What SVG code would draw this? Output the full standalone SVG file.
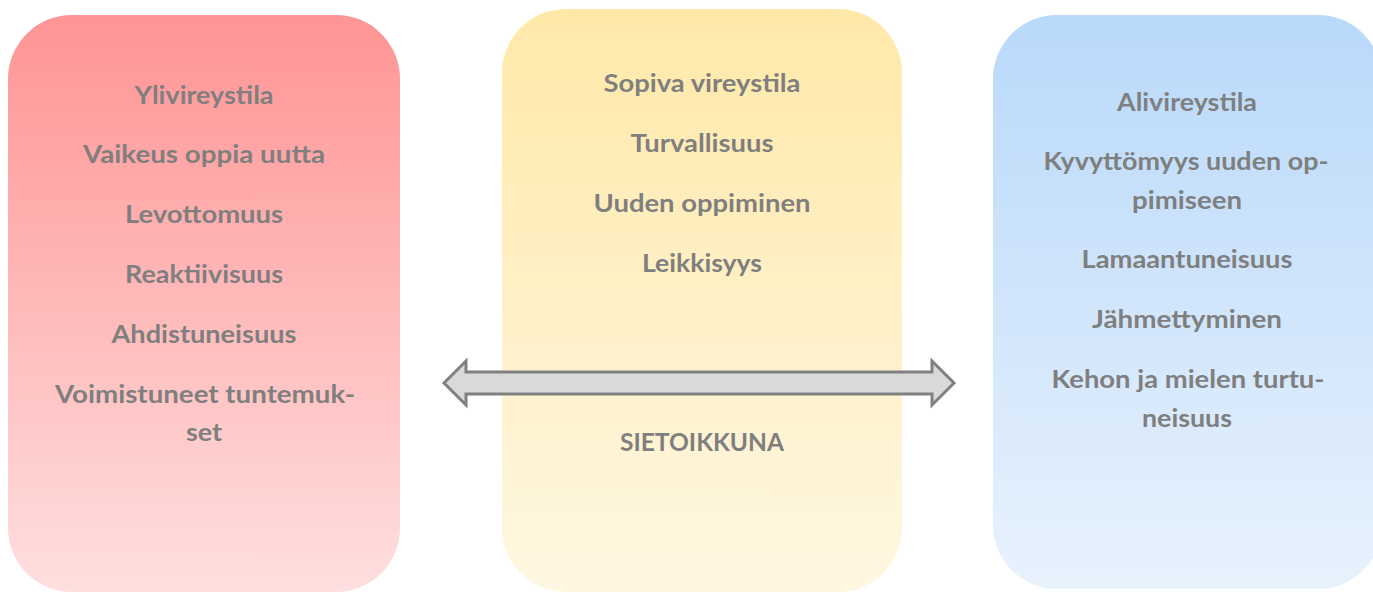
<svg xmlns="http://www.w3.org/2000/svg" width="1373" height="592" viewBox="0 0 1373 592">
<style>
.t{font-family:Lato,"Open Sans","Liberation Sans",sans-serif;font-weight:700;font-size:25px;fill:#7f7f7f;text-anchor:middle}
</style>
<defs>
<linearGradient id="gr" x1="0" y1="0" x2="0" y2="1"><stop offset="0" stop-color="#ff9494"/><stop offset="1" stop-color="#ffdfdf"/></linearGradient>
<linearGradient id="gy" x1="0" y1="0" x2="0" y2="1"><stop offset="0" stop-color="#ffe9a9"/><stop offset="1" stop-color="#fff7e2"/></linearGradient>
<linearGradient id="gb" x1="0" y1="0" x2="0" y2="1"><stop offset="0" stop-color="#b9d9fa"/><stop offset="1" stop-color="#e8f2fd"/></linearGradient>
</defs>
<rect width="1373" height="592" fill="#ffffff"/>
<g id="node-left">
<rect x="8" y="15" width="392" height="577" rx="64" ry="64" fill="url(#gr)"/>
<text class="t" x="204" y="104" textLength="139" lengthAdjust="spacingAndGlyphs">Ylivireystila</text>
<text class="t" x="204" y="163" textLength="242" lengthAdjust="spacingAndGlyphs">Vaikeus oppia uutta</text>
<text class="t" x="204" y="223" textLength="158" lengthAdjust="spacingAndGlyphs">Levottomuus</text>
<text class="t" x="204" y="283" textLength="158" lengthAdjust="spacingAndGlyphs">Reaktiivisuus</text>
<text class="t" x="204" y="343" textLength="185" lengthAdjust="spacingAndGlyphs">Ahdistuneisuus</text>
<text class="t" x="205" y="403" textLength="300" lengthAdjust="spacingAndGlyphs">Voimistuneet tuntemuk-</text>
<text class="t" x="204" y="441" textLength="36" lengthAdjust="spacingAndGlyphs">set</text>
</g>
<g id="node-middle">
<rect x="502" y="9" width="400" height="583" rx="64" ry="64" fill="url(#gy)"/>
<text class="t" x="702" y="92" textLength="197" lengthAdjust="spacingAndGlyphs">Sopiva vireystila</text>
<text class="t" x="702" y="152" textLength="143" lengthAdjust="spacingAndGlyphs">Turvallisuus</text>
<text class="t" x="702" y="212" textLength="217" lengthAdjust="spacingAndGlyphs">Uuden oppiminen</text>
<text class="t" x="702" y="272" textLength="120" lengthAdjust="spacingAndGlyphs">Leikkisyys</text>
<text class="t" x="702" y="451" textLength="164" lengthAdjust="spacingAndGlyphs">SIETOIKKUNA</text>
</g>
<g id="node-right">
<rect x="993" y="15" width="389" height="574" rx="64" ry="64" fill="url(#gb)"/>
<text class="t" x="1187" y="111" textLength="140" lengthAdjust="spacingAndGlyphs">Alivireystila</text>
<text class="t" x="1186" y="170" textLength="285" lengthAdjust="spacingAndGlyphs">Kyvyttömyys uuden op-</text>
<text class="t" x="1187" y="209" textLength="110" lengthAdjust="spacingAndGlyphs">pimiseen</text>
<text class="t" x="1187" y="268" textLength="211" lengthAdjust="spacingAndGlyphs">Lamaantuneisuus</text>
<text class="t" x="1187" y="328" textLength="190" lengthAdjust="spacingAndGlyphs">Jähmettyminen</text>
<text class="t" x="1188" y="388" textLength="273" lengthAdjust="spacingAndGlyphs">Kehon ja mielen turtu-</text>
<text class="t" x="1187" y="427" textLength="90" lengthAdjust="spacingAndGlyphs">neisuus</text>
</g>
<g id="connectors">
<path d="M444 383 L466 361 L466 372 L932 372 L932 361 L954 383 L932 405 L932 394 L466 394 L466 405 Z" fill="#d9d9d9" stroke="#808080" stroke-width="3" stroke-linejoin="miter"/>
</g>
</svg>
